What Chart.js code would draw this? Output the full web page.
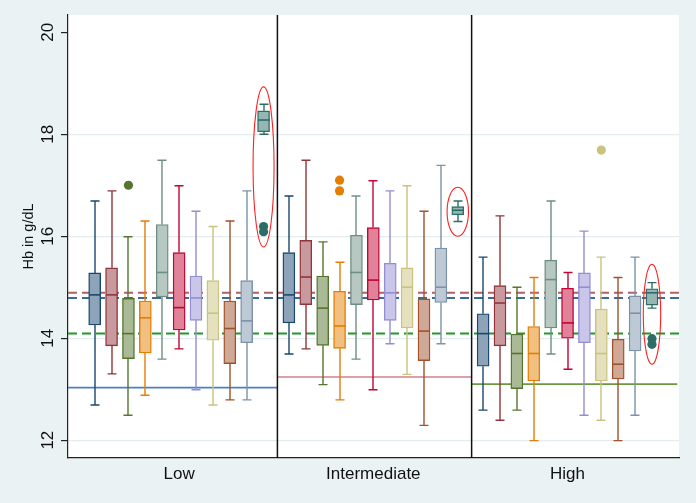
<!DOCTYPE html>
<html><head><meta charset="utf-8">
<script src="https://cdn.jsdelivr.net/npm/chart.js@4/dist/chart.umd.min.js"></script>
<style>html,body{margin:0;padding:0;background:#eaf2f3;} #wrap{width:696px;height:503px;}</style>
</head><body><div id="wrap"><canvas id="c" width="696" height="503"></canvas></div>
<script>
// ---------------- DATA ----------------
const categories = ['Low', 'Intermediate', 'High'];
const yTicks = [12, 14, 16, 18, 20];
// each row: [lower whisker, Q1, median, Q3, upper whisker], 11 boxes per group
const lowStats = [
  [12.69, 14.26, 14.85, 15.28, 16.69],
  [13.30, 13.85, 14.85, 15.38, 16.89],
  [12.49, 13.60, 14.09, 14.78, 15.99],
  [12.88, 13.71, 14.40, 14.73, 16.30],
  [13.59, 14.81, 15.29, 16.23, 17.49],
  [13.79, 14.16, 14.60, 15.68, 16.99],
  [12.99, 14.35, 14.79, 15.22, 16.49],
  [12.69, 13.96, 14.49, 15.13, 16.19],
  [12.79, 13.50, 14.19, 14.73, 16.30],
  [12.79, 13.91, 14.34, 15.13, 16.89],
  [18.00, 18.05, 18.28, 18.46, 18.59]
];
const intermediateStats = [
  [13.69, 14.30, 14.85, 15.68, 16.79],
  [13.79, 14.66, 15.20, 15.92, 17.49],
  [13.09, 13.86, 14.59, 15.22, 15.89],
  [12.79, 13.80, 14.24, 14.92, 15.49],
  [13.59, 14.66, 15.29, 16.02, 16.79],
  [12.99, 14.75, 15.14, 16.17, 17.09],
  [13.89, 14.35, 14.89, 15.47, 16.89],
  [13.29, 14.20, 15.00, 15.38, 16.99],
  [12.29, 13.56, 14.14, 14.77, 16.49],
  [13.89, 14.70, 15.00, 15.77, 17.39],
  [16.29, 16.42, 16.51, 16.58, 16.69]
];
const highStats = [
  [12.59, 13.45, 14.09, 14.48, 15.59],
  [12.39, 13.85, 14.69, 15.03, 16.40],
  [12.59, 13.01, 13.70, 14.08, 15.00],
  [11.99, 13.16, 13.70, 14.23, 15.19],
  [13.69, 14.20, 15.15, 15.53, 16.69],
  [13.39, 14.00, 14.30, 14.98, 15.29],
  [12.49, 13.91, 15.00, 15.28, 16.10],
  [12.39, 13.16, 13.70, 14.57, 15.59],
  [11.99, 13.20, 13.49, 13.98, 15.19],
  [12.49, 13.75, 14.49, 14.83, 15.59],
  [14.59, 14.65, 14.89, 14.97, 15.09]
];
// outliers: [group index, box index, value]
const outliers = [
  [0, 2, 17.00], [0, 10, 16.19], [0, 10, 16.09],
  [1, 3, 17.10], [1, 3, 16.89],
  [2, 7, 17.69], [2, 10, 13.99], [2, 10, 13.88]
];
// overall reference levels (dashed): maroon, navy, green
const overallRefs = [14.89, 14.79, 14.09];
// per-group reference level (solid)
const groupRefs = [13.03, 13.24, 13.10];
// highlighted (circled) box per group, and vertical extent of the circle
const highlightBox = [10, 10, 10];
const highlightTop = [18.93, 16.96, 15.45];
const highlightBottom = [15.79, 16.00, 13.49];

// ---------------- STYLE ----------------
const boxColors = ['#1a476f','#90353b','#55752f','#e37e00','#6e8e84','#c10534','#938dd2','#cac27e','#a0522d','#7b92a8','#2d6d66'];
const refDashColors = ['#b0606c','#3f6a96','#22962a'];
const groupRefColors = ['#4a80c4','#cf7f8c','#6a9a40'];
const ellipseHalfPx = [10.5, 10.7, 8.7];
const GROUP_STEP = 11.5;
const DIVIDER_OFFSET = 10.82;
const X_MIN = -1.58, X_MAX = 34.6, Y_MIN = 11.65, Y_MAX = 20.34;
const FONT = '"Liberation Sans", Arial, sans-serif';

function lighten(hex, f) {
  const n = parseInt(hex.slice(1), 16);
  const r = (n >> 16) & 255, g = (n >> 8) & 255, b = n & 255;
  const m = c => Math.round(c + (255 - c) * f);
  return 'rgb(' + m(r) + ',' + m(g) + ',' + m(b) + ')';
}
const groupStats = [lowStats, intermediateStats, highStats];
const pos = (g, i) => g * GROUP_STEP + i;

const datasets = [];
// boxes as floating bars
boxColors.forEach((col, i) => {
  datasets.push({
    type: 'bar', label: 'box' + i, grouped: false, order: 2,
    data: groupStats.map((st, g) => ({ x: pos(g, i), y: [st[i][1], st[i][3]] })),
    backgroundColor: lighten(col, 0.5), borderColor: col, borderWidth: 1.4,
    borderSkipped: false, barThickness: 12
  });
});
// overall dashed reference lines
overallRefs.forEach((v, k) => {
  datasets.push({
    type: 'line', order: 10, data: [{ x: X_MIN, y: v }, { x: X_MAX, y: v }],
    borderColor: refDashColors[k], borderWidth: 2, borderDash: [9, 5], pointRadius: 0, fill: false
  });
});
// per-group solid reference lines
groupRefs.forEach((v, g) => {
  const a = g === 0 ? X_MIN : pos(g - 1, DIVIDER_OFFSET);
  const b = g === 2 ? X_MAX - 0.1 : pos(g, DIVIDER_OFFSET);
  datasets.push({
    type: 'line', order: 9, data: [{ x: a, y: v }, { x: b, y: v }],
    borderColor: groupRefColors[g], borderWidth: 1.6, pointRadius: 0, fill: false
  });
});
// group dividers
[0, 1].forEach(g => {
  datasets.push({
    type: 'line', order: 8, data: [{ x: pos(g, DIVIDER_OFFSET), y: Y_MIN }, { x: pos(g, DIVIDER_OFFSET), y: Y_MAX }],
    borderColor: '#111', borderWidth: 1.5, pointRadius: 0, fill: false
  });
});
// outliers
datasets.push({
  type: 'scatter', order: 0,
  data: outliers.map(o => ({ x: pos(o[0], o[1]), y: o[2] })),
  pointBackgroundColor: outliers.map(o => boxColors[o[1]]),
  pointBorderWidth: 0, pointRadius: 4.6, pointHoverRadius: 4.6
});

const boxPlugin = {
  id: 'boxExtras',
  beforeDraw(chart) {
    const { ctx, chartArea: a } = chart;
    ctx.save();
    ctx.fillStyle = '#eaf2f3';
    ctx.fillRect(0, 0, chart.width, chart.height);
    ctx.fillStyle = '#ffffff';
    ctx.fillRect(a.left, a.top, a.right - a.left, a.bottom - a.top);
    ctx.restore();
  },
  afterDatasetsDraw(chart) {
    const { ctx } = chart;
    const xs = chart.scales.x, ys = chart.scales.y;
    ctx.save();
    groupStats.forEach((st, g) => {
      st.forEach((s, i) => {
        const col = boxColors[i];
        const px = Math.round(xs.getPixelForValue(pos(g, i)));
        ctx.strokeStyle = col;
        ctx.lineWidth = 1.4;
        ctx.beginPath();
        // whiskers
        ctx.moveTo(px, ys.getPixelForValue(s[0])); ctx.lineTo(px, ys.getPixelForValue(s[1]));
        ctx.moveTo(px, ys.getPixelForValue(s[3])); ctx.lineTo(px, ys.getPixelForValue(s[4]));
        // caps
        ctx.moveTo(px - 4.5, ys.getPixelForValue(s[0])); ctx.lineTo(px + 4.5, ys.getPixelForValue(s[0]));
        ctx.moveTo(px - 4.5, ys.getPixelForValue(s[4])); ctx.lineTo(px + 4.5, ys.getPixelForValue(s[4]));
        ctx.stroke();
        // median
        ctx.lineWidth = 1.6;
        ctx.beginPath();
        ctx.moveTo(px - 6, ys.getPixelForValue(s[2])); ctx.lineTo(px + 6, ys.getPixelForValue(s[2]));
        ctx.stroke();
      });
    });
    // highlight ellipses
    ctx.strokeStyle = '#ff2020';
    ctx.lineWidth = 1.1;
    highlightBox.forEach((b, g) => {
      const cx = xs.getPixelForValue(pos(g, b));
      const yt = ys.getPixelForValue(highlightTop[g]);
      const yb = ys.getPixelForValue(highlightBottom[g]);
      ctx.beginPath();
      ctx.ellipse(cx, (yt + yb) / 2, ellipseHalfPx[g], (yb - yt) / 2, 0, 0, Math.PI * 2);
      ctx.stroke();
    });
    ctx.restore();
  }
};

new Chart(document.getElementById('c'), {
  type: 'bar',
  data: { datasets },
  plugins: [boxPlugin],
  options: {
    responsive: false, animation: false, events: [],
    layout: { padding: { left: 0, top: 15, right: 17, bottom: 0 } },
    plugins: { legend: { display: false }, tooltip: { enabled: false } },
    scales: {
      x: {
        type: 'linear', min: X_MIN, max: X_MAX, offset: false,
        afterFit: s => { s.height = 45; },
        afterBuildTicks: s => { s.ticks = categories.map((c, g) => ({ value: pos(g, 5) })); },
        ticks: {
          callback: (v, i) => categories[i], autoSkip: false, maxRotation: 0, minRotation: 0,
          font: { family: FONT, size: 17 }, color: '#111', padding: 6
        },
        grid: { display: false, drawTicks: false, tickLength: 0, offset: false },
        border: { display: true, color: '#222', width: 1.2 }
      },
      y: {
        type: 'linear', min: Y_MIN, max: Y_MAX,
        afterFit: s => { s.width = 68; },
        afterBuildTicks: s => { s.ticks = yTicks.map(v => ({ value: v })); },
        ticks: {
          minRotation: 90, maxRotation: 90, crossAlign: 'center', padding: 3,
          font: { family: FONT, size: 17 }, color: '#111'
        },
        grid: {
          color: c => (c.tick && c.tick.value === 20) ? 'rgba(0,0,0,0)' : '#e3ecef',
          lineWidth: 1.2, tickColor: '#222', tickLength: 7, drawTicks: true
        },
        border: { display: true, color: '#222', width: 1.2 },
        title: {
          display: true, text: 'Hb in g/dL', color: '#111',
          font: { family: FONT, size: 14.5 }, padding: { top: 20, bottom: 0 }
        }
      }
    }
  }
});
</script>
</body></html>
